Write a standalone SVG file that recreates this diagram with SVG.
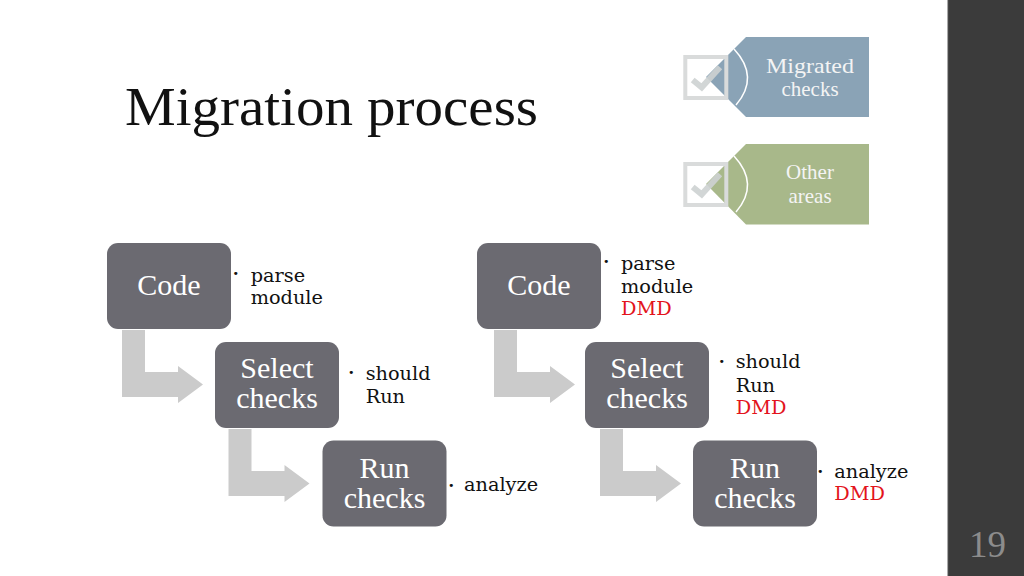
<svg xmlns="http://www.w3.org/2000/svg" width="1024" height="576" viewBox="0 0 1024 576">
<defs>
<style>
.node{fill:#6b6a71}
.nl{font-family:"Liberation Serif",serif;font-size:30px;fill:#ffffff;text-anchor:middle}
.bt{font-family:"DejaVu Serif",serif;font-size:19.3px;fill:#111111}
.red{fill:#e3141c}
.bul{font-family:"DejaVu Sans",sans-serif;font-size:11px;fill:#111111}
.arr{fill:#cbcbcb}
.tagt{font-family:"Liberation Serif",serif;font-size:21px;fill:#f4f4f4;text-anchor:middle}
.box{fill:none;stroke:#d9dbdb;stroke-width:4}
.chk{fill:none;stroke:#cdd1d1;stroke-width:6;stroke-linecap:butt;stroke-linejoin:miter;opacity:0.9}
.arc{fill:none;stroke:#ffffff;stroke-width:1.5}
</style>
<path id="bent" d="M0,0 H23 V42 H56 V36 L81,54.5 L56,73 V67 H0 Z"/>
</defs>
<rect width="1024" height="576" fill="#ffffff"/>
<rect x="948" y="0" width="76" height="576" fill="#3b3b3b"/>
<line x1="948" y1="0" x2="948" y2="576" stroke="#555" stroke-width="1"/>
<text x="987.5" y="557" font-family="Liberation Serif, serif" font-size="37" fill="#8c8c8c" text-anchor="middle">19</text>

<text id="title" x="125" y="125" font-family="Liberation Serif, serif" font-size="55" fill="#111111" textLength="413" lengthAdjust="spacingAndGlyphs">Migration process</text>

<g id="tag-migrated">
<polygon points="746,37 869,37 869,117 746,117 706,77" fill="#8aa3b6"/>
<path class="arc" d="M734,49 Q760,77 736,105"/>
<rect class="box" x="685.3" y="57" width="41" height="41"/>
<polyline class="chk" points="692.7,80 701.7,87.3 720,67.3"/>
<text class="tagt" x="810" y="72.5" textLength="88" lengthAdjust="spacingAndGlyphs">Migrated</text>
<text class="tagt" x="810" y="95.5">checks</text>
</g>
<g id="tag-other">
<polygon points="746,144 869,144 869,224.5 746,224.5 706,184" fill="#a8b88a"/>
<path class="arc" d="M734,156 Q760,184 736,212"/>
<rect class="box" x="685.3" y="164" width="41" height="41"/>
<polyline class="chk" points="692.7,187 701.7,194.3 720,174.3"/>
<text class="tagt" x="810" y="178.5">Other</text>
<text class="tagt" x="810" y="203">areas</text>
</g>

<g id="connectors">
<use href="#bent" class="arr" x="122" y="330"/>
<use href="#bent" class="arr" x="228.5" y="429"/>
<use href="#bent" class="arr" x="494" y="330"/>
<use href="#bent" class="arr" x="600" y="429"/>
</g>

<g id="left-code">
<rect class="node" x="107" y="243" width="124" height="86" rx="11"/>
<text class="nl" x="169" y="295">Code</text>
<text class="bul" x="232.5" y="277">•</text>
<text class="bt" x="250.7" y="281.7">parse</text>
<text class="bt" x="250.7" y="304">module</text>
</g>
<g id="left-select">
<rect class="node" x="215" y="342" width="124" height="86" rx="11"/>
<text class="nl" x="277" y="378.3">Select</text>
<text class="nl" x="277" y="408.3">checks</text>
<text class="bul" x="348" y="376">•</text>
<text class="bt" x="365.7" y="380">should</text>
<text class="bt" x="365.7" y="402.5">Run</text>
</g>
<g id="left-run">
<rect class="node" x="322.5" y="440.5" width="124" height="86" rx="11"/>
<text class="nl" x="384.5" y="477.7">Run</text>
<text class="nl" x="384.5" y="507.5">checks</text>
<text class="bul" x="448" y="489">•</text>
<text class="bt" x="464" y="491">analyze</text>
</g>

<g id="right-code">
<rect class="node" x="477" y="243" width="124" height="86" rx="11"/>
<text class="nl" x="539" y="295">Code</text>
<text class="bul" x="603" y="265">•</text>
<text class="bt" x="621" y="270">parse</text>
<text class="bt" x="621" y="292.5">module</text>
<text class="bt red" x="621" y="315">DMD</text>
</g>
<g id="right-select">
<rect class="node" x="585" y="342" width="124" height="86" rx="11"/>
<text class="nl" x="647" y="378.3">Select</text>
<text class="nl" x="647" y="408.3">checks</text>
<text class="bul" x="718.5" y="365">•</text>
<text class="bt" x="735.7" y="368.3">should</text>
<text class="bt" x="735.7" y="391.7">Run</text>
<text class="bt red" x="735.7" y="414.3">DMD</text>
</g>
<g id="right-run">
<rect class="node" x="693" y="440.5" width="124" height="86" rx="11"/>
<text class="nl" x="755" y="477.7">Run</text>
<text class="nl" x="755" y="507.5">checks</text>
<text class="bul" x="817" y="475">•</text>
<text class="bt" x="834.3" y="477.7">analyze</text>
<text class="bt red" x="834.3" y="500">DMD</text>
</g>
</svg>
